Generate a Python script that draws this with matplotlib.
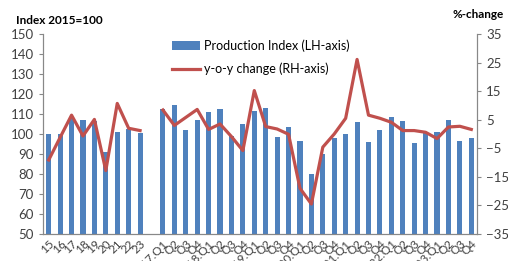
import matplotlib.pyplot as plt
import numpy as np

plt.rcParams['font.family'] = ['Lato', 'DejaVu Sans']

years = ['15', '16', '17', '18', '19', '20', '21', '22', '23']
quarter_years = ['2017', '2018', '2019', '2020', '2021', '2022', '2023']

year_index = [99.8, 100.2, 108.0, 106.8, 106.3, 91.2, 101.0, 102.5, 100.7]
year_change = [-9.1, -1.2, 6.6, -0.7, 5.1, -12.8, 10.7, 2.0, 1.2]

quarter_index = [112.3, 114.3, 101.8, 106.8,
                 111.2, 112.3, 99.0, 105.0,
                 111.5, 113.0, 98.3, 103.3,
                 96.7, 79.8, 90.0, 98.2,
                 99.8, 106.2, 96.0, 102.0,
                 108.3, 106.3, 95.3, 100.3,
                 101.0, 107.2, 96.3, 98.2]
quarter_change = [8.4, 3.0, 5.8, 8.6,
                  1.6, 3.5, -0.9, -5.8,
                  15.2, 2.6, 1.75, -0.1,
                  -19.0, -24.5, -4.6, 0.0,
                  5.5, 26.1, 6.6, 5.5,
                  4.1, 1.2, 1.2, 0.6,
                  -1.6, 2.45, 2.7, 1.6]

quarter_labels = []
for y in quarter_years:
    quarter_labels += [y + '.Q1', 'Q2', 'Q3', 'Q4']

labels = years + [''] + quarter_labels
index_vals = year_index + [np.nan] + quarter_index
change_vals = year_change + [np.nan] + quarter_change
x = np.arange(len(labels))

fig = plt.figure(figsize=(5.08, 2.61), dpi=100)
ax = fig.add_axes([43 / 508, 1 - 234 / 261, 434 / 508, 200 / 261])
ax2 = ax.twinx()

bars = ax.bar(x, index_vals, width=0.45, color='#4F81BD', bottom=0,
              label='Production Index (LH-axis)')
line, = ax2.plot(x, change_vals, color='#C0504D', linewidth=2.3,
                 label='y-o-y change (RH-axis)')

ax.set_xlim(-0.5, len(labels) - 0.5)
ax.set_ylim(50, 150)
ax.set_yticks(np.arange(50, 151, 10))
ax2.set_ylim(-35, 35)
ax2.set_yticks(np.arange(-35, 36, 10))

ax.set_xticks(x)
ax.set_xticklabels(labels, rotation=45, ha='right', rotation_mode='anchor',
                   fontsize=8.5, color='#404040')
ax.tick_params(axis='x', length=0, pad=3)
ax.tick_params(axis='y', labelsize=9.5, colors='#404040', length=3, color='#888888')
ax2.tick_params(axis='y', labelsize=9.5, colors='#404040', length=3, color='#888888')

for a in (ax, ax2):
    a.spines['top'].set_visible(False)
    for s in ('left', 'right', 'bottom'):
        a.spines[s].set_color('#888888')

fig.text(16 / 508, 1 - 20 / 261, 'Index 2015=100', fontsize=8.5, fontweight='bold',
         va='center', ha='left')
fig.text(504 / 508, 1 - 15 / 261, '%-change', fontsize=8.5, fontweight='bold',
         va='center', ha='right')

fig.legend([bars, line], [bars.get_label(), line.get_label()],
           loc='upper left', bbox_to_anchor=(166 / 508, 1 - 33 / 261),
           frameon=False, fontsize=9, handlelength=2.2, labelspacing=0.85,
           handletextpad=0.3, borderpad=0)

fig.savefig('out.png', dpi=100)
